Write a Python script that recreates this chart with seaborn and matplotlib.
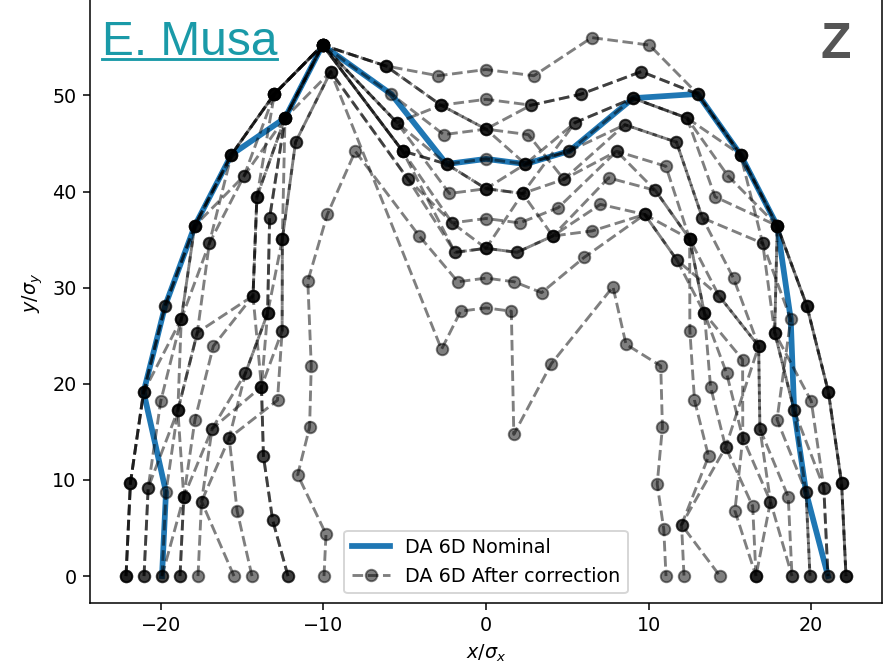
import numpy as np
import pandas as pd
import matplotlib
matplotlib.use('Agg')
import matplotlib.pyplot as plt
import seaborn as sns
from matplotlib.lines import Line2D

# 21 scan rays, from left (180 deg) to right (0 deg)
angles = [180, 171, 162, 153, 144, 135, 126, 117, 108, 99, 90,
          81, 72, 63, 54, 45, 36, 27, 18, 9, 0]
# size of one amplitude step in sigma units
x_step = 1.107
y_step = 3.1

# DA amplitude (in steps) on every ray
nominal = [18, 18, 20, 20, 20, 20, 19, 20, 17, 14, 14, 14, 15, 18, 20, 20, 20, 19, 18, 18, 19]

seed_01 = [20, 20, 20, 20, 20, 20, 20, 20, 18, 17, 17, 17, 19, 20, 20, 20, 20, 20, 20, 20, 20]
seed_02 = [20, 20, 20, 19, 20, 20, 20, 20, 18, 16, 16, 16, 17, 19, 20, 20, 20, 20, 20, 20, 20]
seed_03 = [20, 20, 20, 20, 20, 20, 20, 20, 18, 16, 15, 14, 16, 18, 19, 20, 20, 20, 20, 20, 20]
seed_04 = [19, 19, 18, 19, 20, 19, 20, 20, 16, 16, 15, 16, 17, 19, 20, 20, 19, 18, 19, 19, 19]
seed_05 = [19, 19, 19, 19, 19, 20, 20, 20, 16, 14, 13, 14, 15, 18, 19, 19, 20, 18, 18, 19, 19]
seed_06 = [18, 18, 18, 18, 19, 19, 19, 20, 15, 14, 13, 13, 16, 18, 19, 18, 20, 18, 18, 18, 18]
seed_07 = [18, 17, 18, 18, 16, 18, 19, 20, 15, 14, 14, 14, 15, 17, 18, 17, 19, 19, 17, 18, 18]
seed_08 = [17, 17, 17, 17, 16, 18, 19, 20, 17, 15, 15, 15, 14, 17, 18, 17, 17, 17, 16, 17, 17]
seed_09 = [17, 17, 16, 15, 15, 17, 19, 20, 16, 13, 13, 13, 14, 16, 17, 16, 16, 17, 16, 16, 17]
seed_10 = [14, 16, 16, 14, 14, 16, 19, 19, 14, 12, 12, 12, 13, 16, 16, 16, 15, 16, 15, 16, 15]
seed_11 = [11, 12, 13, 14, 16, 18, 20, 20, 15, 12, 11, 11, 12, 15, 16, 16, 15, 15, 15, 14, 15]
seed_12 = [11, 12, 13, 14, 15, 17, 19, 20, 15, 11, 11, 11, 12, 14, 15, 15, 15, 14, 14, 15, 15]
seed_13 = [16, 16, 15, 13, 14, 16, 18, 19, 14, 11, 11, 13, 12, 13, 15, 16, 14, 13, 13, 11, 13]
seed_14 = [13, 14, 15, 15, 15, 16, 18, 19, 8, 9, 9, 9, 5, 8, 12, 11, 12, 11, 10, 10, 10]
seed_15 = [9, 9, 11, 11, 12, 14, 15, 16, 12, 10, 10, 10, 10, 12, 15, 15, 16, 17, 14, 11, 11]

seeds = [seed_01, seed_02, seed_03, seed_04, seed_05, seed_06, seed_07, seed_08,
         seed_09, seed_10, seed_11, seed_12, seed_13, seed_14, seed_15]


def to_xy(amp):
    a = np.radians(angles)
    amp = np.array(amp, dtype=float)
    return amp * x_step * np.cos(a), amp * y_step * np.sin(a)


xn, yn = to_xy(nominal)
df_nom = pd.DataFrame({'x': xn, 'y': yn})

rows = []
for i, s in enumerate(seeds):
    xs, ys = to_xy(s)
    rows.append(pd.DataFrame({'x': xs, 'y': ys, 'seed': i}))
df = pd.concat(rows, ignore_index=True)

fig = plt.figure(figsize=(884 / 138, 665 / 138), dpi=138)
# the top of the frame is cut off in the original, so the axes run past the figure top
ax = fig.add_axes([90 / 884, 62 / 665, 792 / 884, 620 / 665])

# nominal DA
sns.lineplot(data=df_nom, x='x', y='y', sort=False, estimator=None,
             color='#1f77b4', lw=3, legend=False, ax=ax)
# DA of the corrected seeds
sns.lineplot(data=df, x='x', y='y', units='seed', estimator=None, sort=False,
             color='k', alpha=0.5, linestyle='--', marker='o', markersize=6,
             mec='k', mew=1, lw=1.5, legend=False, ax=ax)

ax.set_ylim(-2.8, 61.7)
ax.set_xlabel(r'$x/\sigma_x$')
ax.set_ylabel(r'$y/\sigma_y$')
ax.set_xticks([-20, -10, 0, 10, 20])
ax.set_yticks([0, 10, 20, 30, 40, 50])

lines = ax.get_lines()
ax.legend([lines[0], lines[1]], ['DA 6D Nominal', 'DA 6D After correction'],
          loc='lower center')

# name tag and plane label
t = fig.text(0.115, 0.917, 'E. Musa', fontsize=25, color='#1a9aa8',
             family='Liberation Sans', ha='left', va='baseline')
fig.canvas.draw()
bb = t.get_window_extent(fig.canvas.get_renderer())
W, H = fig.bbox.width, fig.bbox.height
fig.add_artist(Line2D([bb.x0 / W, bb.x1 / W], [0.911, 0.911],
                      transform=fig.transFigure, color='#1a9aa8', lw=1.5))
fig.text(0.962, 0.913, 'Z', fontsize=26, color='#555555', fontweight='bold',
         family='Liberation Sans', ha='right', va='baseline')

fig.savefig('out.png', dpi=138)
